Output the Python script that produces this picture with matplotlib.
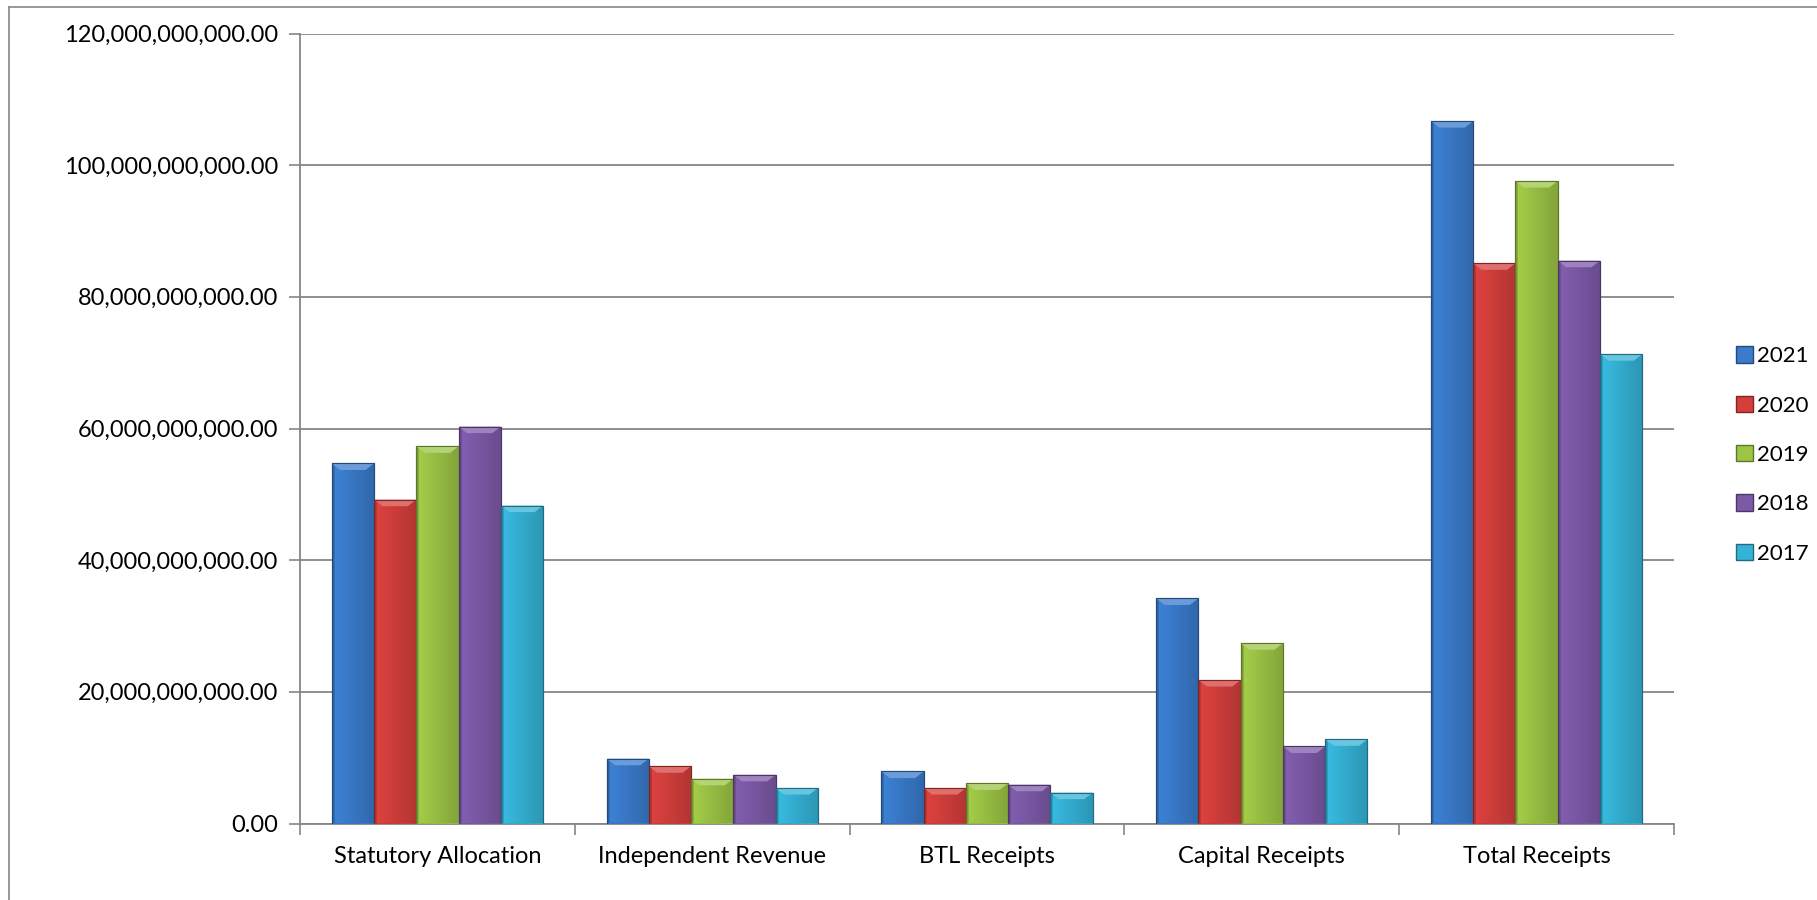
import numpy as np
import matplotlib
matplotlib.use("Agg")
import matplotlib.pyplot as plt
from matplotlib.colors import to_rgb
from matplotlib.lines import Line2D
from matplotlib.ticker import FuncFormatter

categories = ["Statutory Allocation", "Independent Revenue", "BTL Receipts",
              "Capital Receipts", "Total Receipts"]
years = ["2021", "2020", "2019", "2018", "2017"]
v2021 = [54.7e9, 9.85e9, 7.9e9, 34.2e9, 106.7e9]
v2020 = [49.2e9, 8.7e9, 5.4e9, 21.8e9, 85.1e9]
v2019 = [57.3e9, 6.8e9, 6.1e9, 27.4e9, 97.6e9]
v2018 = [60.3e9, 7.4e9, 5.9e9, 11.7e9, 85.5e9]
v2017 = [48.3e9, 5.4e9, 4.7e9, 12.8e9, 71.3e9]
series = [v2021, v2020, v2019, v2018, v2017]
colors = ["#3A7BCC", "#D43F3C", "#9CC445", "#7D5AA8", "#35B2D6"]

plt.rcParams['font.family'] = ['Lato', 'DejaVu Sans']

W, H = 1817, 900
fig = plt.figure(figsize=(W / 100, H / 100), dpi=100)
ax = fig.add_axes([300 / W, (H - 823.5) / H, (1674 - 300) / W, (823.5 - 33.5) / H])

n = len(series)
w = 1 / 6.5
x = np.arange(len(categories))


def shade(c, f):
    r = np.array(to_rgb(c))
    if f >= 1:
        return tuple(r + (1 - r) * (f - 1))
    return tuple(r * f)


for i, (vals, col) in enumerate(zip(series, colors)):
    pos = x - 2.5 * w + (i + 0.5) * w
    bars = ax.bar(pos, vals, width=w, color=col, edgecolor=shade(col, 0.6),
                  linewidth=0.8, zorder=3, label=years[i])
    # horizontal gradient overlay for a bevelled look
    grad = np.linspace(0, 1, 64)
    prof = 1.06 - 0.22 * grad
    prof[:4] = 0.8
    rgb = np.array(to_rgb(col))
    img = np.clip(rgb[None, None, :] * prof[None, :, None], 0, 1)
    for b in bars:
        bx, by = b.get_x(), b.get_y()
        bw, bh = b.get_width(), b.get_height()
        im = ax.imshow(img, extent=[bx, bx + bw, by, by + bh], aspect='auto',
                       zorder=3.5, interpolation='bilinear')
        im.set_clip_path(b)
        # top bevel
        top_h = 1.0e9
        ax.fill([bx, bx + bw, bx + bw * 0.8, bx + bw * 0.2],
                [by + bh, by + bh, by + bh - top_h, by + bh - top_h],
                color=shade(col, 1.25), zorder=3.8, linewidth=0)
        ax.add_patch(plt.Rectangle((bx, by), bw, bh, fill=False,
                                   edgecolor=shade(col, 0.6), linewidth=0.8,
                                   zorder=3.9))

ax.set_xlim(-0.5, len(categories) - 0.5)
ax.set_ylim(0, 120e9)
ax.set_yticks(np.arange(0, 120e9 + 1, 20e9))
ax.yaxis.set_major_formatter(FuncFormatter(lambda v, p: f"{v:,.2f}"))
ax.set_xticks(x)
ax.set_xticklabels(categories)
ax.set_xticks(np.arange(-0.5, len(categories)), minor=True)
ax.tick_params(axis='x', which='major', length=0, pad=16, labelsize=17)
ax.tick_params(axis='x', which='minor', length=8, color='#868686', width=1.2)
ax.tick_params(axis='y', length=8, color='#868686', width=1.2, pad=8, labelsize=17)
ax.grid(axis='y', color='#868686', linewidth=1.3, zorder=0)
for s in ['top', 'right']:
    ax.spines[s].set_visible(False)
for s in ['left', 'bottom']:
    ax.spines[s].set_color('#868686')
    ax.spines[s].set_linewidth(1.3)
ax.set_axisbelow(True)

handles = [plt.Rectangle((0, 0), 1, 1, facecolor=c, edgecolor=shade(c, 0.6))
           for c in colors]
fig.legend(handles, years, loc='center left',
           bbox_to_anchor=(1736 / W, 1 - 455 / H), frameon=False,
           fontsize=16, handlelength=0.75, handleheight=0.75,
           handletextpad=0.2, labelspacing=1.32, borderaxespad=0,
           borderpad=0)

# outer chart border (left and top visible)
fig.add_artist(Line2D([9 / W, 9 / W], [0, 1 - 7 / H], color='#868686',
                      linewidth=1.2, transform=fig.transFigure))
fig.add_artist(Line2D([9 / W, 1], [1 - 7 / H, 1 - 7 / H], color='#868686',
                      linewidth=1.2, transform=fig.transFigure))

fig.savefig("out.png", dpi=100)
